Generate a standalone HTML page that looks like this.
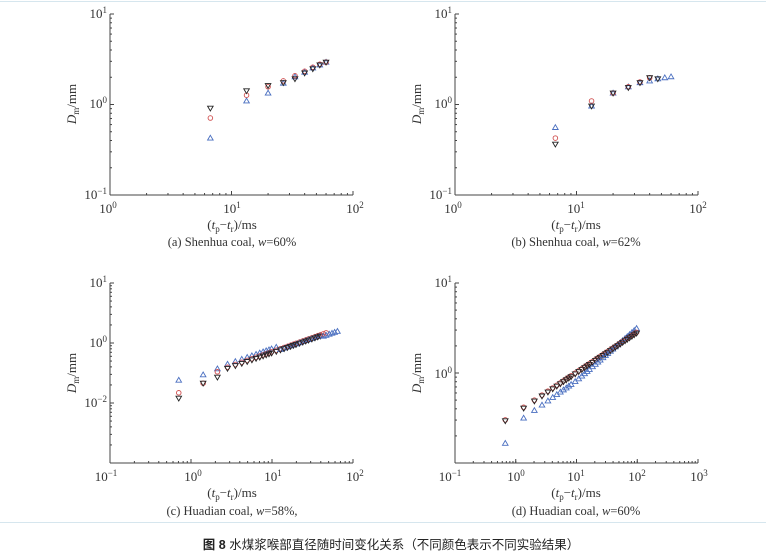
<!DOCTYPE html>
<html><head><meta charset="utf-8"><style>
html,body{margin:0;padding:0;background:#fff;}
svg{display:block;}
text{font-family:"Liberation Serif",serif;fill:#333;}
.cap{font-family:"Liberation Sans","Noto Sans CJK SC",sans-serif;fill:#222;}
</style></head><body>
<svg id="s" width="766" height="558" viewBox="0 0 766 558" xmlns="http://www.w3.org/2000/svg">
<line x1="0" y1="1.5" x2="766" y2="1.5" stroke="#d6e6ee" stroke-width="1"/>
<line x1="0" y1="522.5" x2="766" y2="522.5" stroke="#d6e6ee" stroke-width="1"/>
<g id="g"></g>
<g font-size="13">
<text x="107" y="18" text-anchor="end">10<tspan dy="-5" font-size="9">1</tspan></text>
<text x="107" y="108" text-anchor="end">10<tspan dy="-5" font-size="9">0</tspan></text>
<text x="107" y="199" text-anchor="end">10<tspan dy="-5" font-size="9">−1</tspan></text>
<text x="108" y="213" text-anchor="middle">10<tspan dy="-5" font-size="9">0</tspan></text>
<text x="232" y="213" text-anchor="middle">10<tspan dy="-5" font-size="9">1</tspan></text>
<text x="355" y="213" text-anchor="middle">10<tspan dy="-5" font-size="9">2</tspan></text>
<text x="232" y="229" text-anchor="middle">(<tspan font-style="italic">t</tspan><tspan font-size="9" dy="3">p</tspan><tspan dy="-3">−</tspan><tspan font-style="italic">t</tspan><tspan font-size="9" dy="3">r</tspan><tspan dy="-3">)/ms</tspan></text>
<text x="232" y="246" text-anchor="middle" font-size="12.5">(a) Shenhua coal, <tspan font-style="italic">w</tspan>=60%</text>
<text transform="translate(76,104) rotate(-90)" text-anchor="middle"><tspan font-style="italic">D</tspan><tspan font-size="9" dy="3">m</tspan><tspan dy="-3">/mm</tspan></text>

<text x="452" y="18" text-anchor="end">10<tspan dy="-5" font-size="9">1</tspan></text>
<text x="452" y="108" text-anchor="end">10<tspan dy="-5" font-size="9">0</tspan></text>
<text x="452" y="199" text-anchor="end">10<tspan dy="-5" font-size="9">−1</tspan></text>
<text x="453" y="213" text-anchor="middle">10<tspan dy="-5" font-size="9">0</tspan></text>
<text x="576" y="213" text-anchor="middle">10<tspan dy="-5" font-size="9">1</tspan></text>
<text x="698" y="213" text-anchor="middle">10<tspan dy="-5" font-size="9">2</tspan></text>
<text x="576" y="229" text-anchor="middle">(<tspan font-style="italic">t</tspan><tspan font-size="9" dy="3">p</tspan><tspan dy="-3">−</tspan><tspan font-style="italic">t</tspan><tspan font-size="9" dy="3">r</tspan><tspan dy="-3">)/ms</tspan></text>
<text x="576" y="246" text-anchor="middle" font-size="12.5">(b) Shenhua coal, <tspan font-style="italic">w</tspan>=62%</text>
<text transform="translate(421,104) rotate(-90)" text-anchor="middle"><tspan font-style="italic">D</tspan><tspan font-size="9" dy="3">m</tspan><tspan dy="-3">/mm</tspan></text>

<text x="107" y="287" text-anchor="end">10<tspan dy="-5" font-size="9">1</tspan></text>
<text x="107" y="347" text-anchor="end">10<tspan dy="-5" font-size="9">0</tspan></text>
<text x="107" y="407" text-anchor="end">10<tspan dy="-5" font-size="9">−2</tspan></text>
<text x="106" y="481" text-anchor="middle">10<tspan dy="-5" font-size="9">−1</tspan></text>
<text x="193" y="481" text-anchor="middle">10<tspan dy="-5" font-size="9">0</tspan></text>
<text x="273" y="481" text-anchor="middle">10<tspan dy="-5" font-size="9">1</tspan></text>
<text x="355" y="481" text-anchor="middle">10<tspan dy="-5" font-size="9">2</tspan></text>
<text x="232" y="497" text-anchor="middle">(<tspan font-style="italic">t</tspan><tspan font-size="9" dy="3">p</tspan><tspan dy="-3">−</tspan><tspan font-style="italic">t</tspan><tspan font-size="9" dy="3">r</tspan><tspan dy="-3">)/ms</tspan></text>
<text x="232" y="515" text-anchor="middle" font-size="12.5">(c) Huadian coal, <tspan font-style="italic">w</tspan>=58%,</text>
<text transform="translate(76,373) rotate(-90)" text-anchor="middle"><tspan font-style="italic">D</tspan><tspan font-size="9" dy="3">m</tspan><tspan dy="-3">/mm</tspan></text>

<text x="452" y="287" text-anchor="end">10<tspan dy="-5" font-size="9">1</tspan></text>
<text x="452" y="378" text-anchor="end">10<tspan dy="-5" font-size="9">0</tspan></text>
<text x="450" y="481" text-anchor="middle">10<tspan dy="-5" font-size="9">−1</tspan></text>
<text x="516" y="481" text-anchor="middle">10<tspan dy="-5" font-size="9">0</tspan></text>
<text x="576" y="481" text-anchor="middle">10<tspan dy="-5" font-size="9">1</tspan></text>
<text x="637" y="481" text-anchor="middle">10<tspan dy="-5" font-size="9">2</tspan></text>
<text x="699" y="481" text-anchor="middle">10<tspan dy="-5" font-size="9">3</tspan></text>
<text x="576" y="497" text-anchor="middle">(<tspan font-style="italic">t</tspan><tspan font-size="9" dy="3">p</tspan><tspan dy="-3">−</tspan><tspan font-style="italic">t</tspan><tspan font-size="9" dy="3">r</tspan><tspan dy="-3">)/ms</tspan></text>
<text x="576" y="515" text-anchor="middle" font-size="12.5">(d) Huadian coal, <tspan font-style="italic">w</tspan>=60%</text>
<text transform="translate(421,373) rotate(-90)" text-anchor="middle"><tspan font-style="italic">D</tspan><tspan font-size="9" dy="3">m</tspan><tspan dy="-3">/mm</tspan></text>
</g>
<text class="cap" x="391" y="549" text-anchor="middle" font-size="12.5"><tspan font-weight="bold">图 8</tspan> 水煤浆喉部直径随时间变化关系（不同颜色表示不同实验结果）</text>
</svg>
<script>
var g=document.getElementById('g'),h='';
function L(x1,y1,x2,y2,c){h+='<line x1="'+x1+'" y1="'+y1+'" x2="'+x2+'" y2="'+y2+'" stroke="'+(c||'#444')+'" stroke-width="1"/>';}
function axes(x0,x1,y0,y1,xd,yd){
 L(x0,y0,x0,y1);L(x0,y1,x1,y1);
 var dx=(x1-x0)/xd,dy=(y1-y0)/yd;
 for(var i=0;i<xd;i++)for(var k=1;k<=10;k++){var x=x0+dx*(i+Math.log10(k));L(x,y1,x,y1-(k==1?4:2));}
 L(x1,y1,x1,y1-4);
 for(var i=0;i<yd;i++)for(var k=1;k<=10;k++){var y=y1-dy*(i+Math.log10(k));L(x0,y,x0+(k==1||k==10?4:2),y);}
}
function mk(t,x,y,c){
 var sw=0.9;
 if(t=='o')h+='<circle cx="'+x+'" cy="'+y+'" r="2.3" fill="none" stroke="'+c+'" stroke-width="'+sw+'"/>';
 else if(t=='^')h+='<path d="M'+x+' '+(y-2.8)+'L'+(x+2.8)+' '+(y+2)+'L'+(x-2.8)+' '+(y+2)+'Z" fill="none" stroke="'+c+'" stroke-width="'+sw+'"/>';
 else h+='<path d="M'+x+' '+(y+2.8)+'L'+(x+2.8)+' '+(y-2)+'L'+(x-2.8)+' '+(y-2)+'Z" fill="none" stroke="'+c+'" stroke-width="'+sw+'"/>';
}
var B='#222',R='#d05050',U='#4a6fc0';
axes(110,353,14,195,2,2);axes(455,698,14,195,2,2);
axes(110,353,283,463,3,3);axes(455,698,283,463,4,2);
function pa(ox,t,v){return [ox+Math.log10(t)*121.5,104-Math.log10(v)*90.5];}
var ta=[6.7,13.3,20,26.7,33.3,40,46.7,53.3,60];
var ab=[0.9,1.4,1.6,1.72,1.9,2.2,2.45,2.7,2.9],ar=[0.7,1.25,1.55,1.8,2.05,2.3,2.55,2.75,2.9],au=[0.42,1.08,1.32,1.7,2.0,2.25,2.5,2.7,2.9];
ta.forEach(function(t,i){var p;p=pa(110,t,au[i]);mk('^',p[0],p[1],U);p=pa(110,t,ar[i]);mk('o',p[0],p[1],R);p=pa(110,t,ab[i]);mk('v',p[0],p[1],B);});
var bb=[0.36,0.95,1.32,1.52,1.72,1.95,1.9],br=[0.42,1.08,1.32,1.55,1.75,1.95],bu=[0.55,0.95,1.32,1.55,1.72,1.8,1.9,1.95,2.0];
ta.forEach(function(t,i){var p;if(bu[i]){p=pa(455,t,bu[i]);mk('^',p[0],p[1],U);}if(br[i]){p=pa(455,t,br[i]);mk('o',p[0],p[1],R);}if(bb[i]){p=pa(455,t,bb[i]);mk('v',p[0],p[1],B);}});
// c
function pc(t,d){return [193+Math.log10(t)*81,343-d*60];}
function cfun(t,off){return -0.37+0.47*(Math.log10(t)-Math.log10(3.3))+off;}
var early={u:[-0.62,-0.53,-0.43],r:[-0.83,-0.67,-0.48],b:[-0.92,-0.67,-0.57]};
var lx={u:-99,r:-99,b:-99},GAP=2.6;
function dm(key,t,p,c){if(p[0]-lx[key]>=GAP){mk(t,p[0],p[1],c);lx[key]=p[0];}}
for(var i=1;i<=98;i++){var t=0.667*i;var p;
 if(i<=3){p=pc(t,early.u[i-1]);mk('^',p[0],p[1],U);p=pc(t,early.r[i-1]);mk('o',p[0],p[1],R);p=pc(t,early.b[i-1]);mk('v',p[0],p[1],B);lx={u:p[0],r:p[0],b:p[0]};continue;}
 if(t<=65)dm('u','^',pc(t,cfun(t,t<12?0.06:(t>40?-0.03:0))),U);
 if(t<=48)dm('r','o',pc(t,cfun(t,0.01)),R);
 if(t<=40)dm('b','v',pc(t,cfun(t,-0.01)),B);
}
// d
function pd(t,d){return [516+Math.log10(t)*61,374-d*90];}
lx={u:-99,r:-99,b:-99};GAP=2.2;
for(var i=1;i<=150;i++){var t=0.667*i;var lt=Math.log10(t);var p;
 var db=(i==1)?-0.51:-0.37+0.45*(lt-0.125);
 var du;
 if(i==1)du=-0.77;else if(lt<1)du=-0.49+0.48*(lt-0.125);else du=-0.07+0.59*(lt-1);
 if(i<=2){p=pd(t,du);mk('^',p[0],p[1],U);p=pd(t,db);mk('o',p[0],p[1],R);p=pd(t,db-0.01);mk('v',p[0],p[1],B);lx={u:p[0],r:p[0],b:p[0]};continue;}
 dm('u','^',pd(t,du),U);
 dm('r','o',pd(t,db),R);
 dm('b','v',pd(t,db-0.01),B);
}
g.innerHTML=h;
</script>
</body></html>
